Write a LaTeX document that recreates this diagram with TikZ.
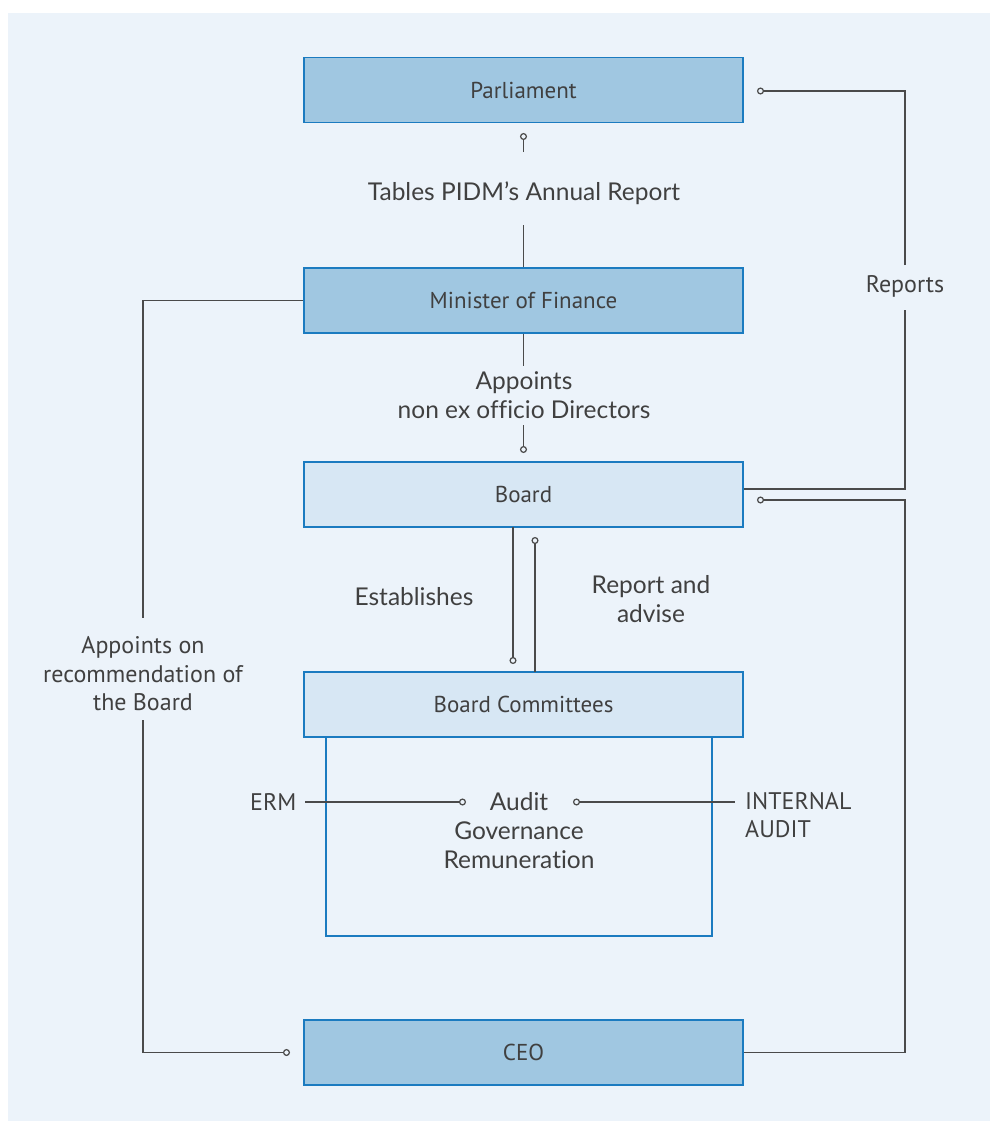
\documentclass[tikz,border=0pt]{standalone}
\usepackage{fontspec}
\setmainfont{PT Sans}
\newfontfamily\lblfont[Ligatures=NoCommon]{Lato}
\usetikzlibrary{arrows.meta,calc}
\definecolor{panelbg}{HTML}{ECF3FA}
\definecolor{darkfill}{HTML}{A0C7E1}
\definecolor{lightfill}{HTML}{D7E7F4}
\definecolor{edgeblue}{HTML}{1B7BC0}
\definecolor{inkgray}{HTML}{404040}
\definecolor{linegray}{HTML}{4A4A4A}
\tikzset{
  orgbox/.style={draw=edgeblue, line width=1.2pt, minimum width=439pt, minimum height=65pt,
    inner sep=0pt, font=\fontsize{23}{27}\selectfont, text=inkgray},
  mainbox/.style={orgbox, fill=darkfill},
  subbox/.style={orgbox, fill=lightfill},
  lbl/.style={font=\lblfont\fontsize{24.5}{28.5}\selectfont, text=inkgray, align=center, inner sep=0pt},
  slbl/.style={font=\fontsize{24}{28.5}\selectfont, text=inkgray, align=center, inner sep=0pt},
  conn/.style={draw=linegray, line width=1.4pt},
  dot/.style={-{Circle[open, length=7pt, width=7pt, line width=1.2pt]}},
  dotstart/.style={{Circle[open, length=7pt, width=7pt, line width=1.2pt]}-},
}
\begin{document}
\begin{tikzpicture}[x=1pt,y=-1pt]
  % page and panel
  \useasboundingbox (0,0) rectangle (990,1121);
  \fill[white] (0,0) rectangle (990,1121);
  \fill[panelbg] (8,13) rectangle (990,1121);

  % main boxes
  \node[mainbox] (par) at (523.5,90) {Parliament};
  \node[mainbox] (mof) at (523.5,300.5) {Minister of Finance};
  \node[subbox]  (brd) at (523.5,494.5) {Board};
  \node[subbox]  (bc)  at (523.5,704.5) {Board Committees};
  \node[mainbox] (ceo) at (523.5,1052.5) {CEO};
  \draw[edgeblue, line width=1.2pt] (bc.south west -| 326,0) -- (326,936) -- (712,936) -- (bc.south west -| 712,0);

  % labels
  \node[lbl] (tab) at (524,193) {Tables PIDM’s Annual Report};
  \node[lbl] (app) at (524,395) {Appoints\\non ex officio Directors};
  \node[lbl] (est) at (414,597) {Establishes};
  \node[lbl] (rad) at (651,599) {Report and\\advise};
  \node[slbl] (rep) at (905,286) {Reports};
  \node[slbl] (aob) at (143,674) {Appoints on\\recommendation of\\the Board};
  \node[lbl] (aud) at (519,802) {Audit};
  \node[lbl] (gov) at (519,831) {Governance};
  \node[lbl] (rem) at (519,860) {Remuneration};
  \node[slbl, anchor=west] (erm) at (250,802) {ERM};
  \node[slbl, anchor=north west, align=left] (ia) at (745,792) {INTERNAL\\AUDIT};

  % fixed turning and end points
  \coordinate (t1) at (523.5,152);
  \coordinate (t0) at (523.5,133);
  \coordinate (t2) at (523.5,225);
  \coordinate (a1) at (523.5,366);
  \coordinate (a2) at (523.5,425);
  \coordinate (a3) at (523.5,453);
  \coordinate (e1) at (513,527);
  \coordinate (e2) at (513,664);
  \coordinate (r1) at (535,537);
  \coordinate (r2) at (535,672);
  \coordinate (pr) at (757,91);
  \coordinate (rt) at (905,91);
  \coordinate (rb) at (905,489);
  \coordinate (br) at (757,500);
  \coordinate (cr) at (905,500);
  \coordinate (cb) at (905,1052.5);
  \coordinate (lt) at (143,300.5);
  \coordinate (lb) at (143,1052.5);
  \coordinate (ce) at (290,1052.5);

  % Parliament -- Minister of Finance
  \draw[conn] (mof.north) -- (t2);
  \draw[conn, dot] (t1) -- (t0);
  % Minister of Finance -- Board
  \draw[conn] (mof.south) -- (a1);
  \draw[conn, dot] (a2) -- (a3);
  % Board -- Board Committees
  \draw[conn, dot] (e1) -- (e2);
  \draw[conn, dotstart] (r1) -- (r2);
  % Board reports to Parliament
  \draw[conn] (brd.east |- rb) -- (rb) -- (rep.south |- 0,310);
  \draw[conn, dot] (rep.north |- 0,265) -- (rt) -- (pr);
  % Board -- CEO
  \draw[conn, dotstart] (br) -- (cr) -- (cb) -- (ceo.east);
  % Minister appoints CEO
  \draw[conn] (mof.west) -- (lt) -- (143,618);
  \draw[conn, dot] (143,720) -- (lb) -- (ce);
  % ERM and internal audit
  \draw[conn, dot] (305,802) -- (466,802);
  \draw[conn, dotstart] (573,802) -- (735,802);
\end{tikzpicture}
\end{document}
